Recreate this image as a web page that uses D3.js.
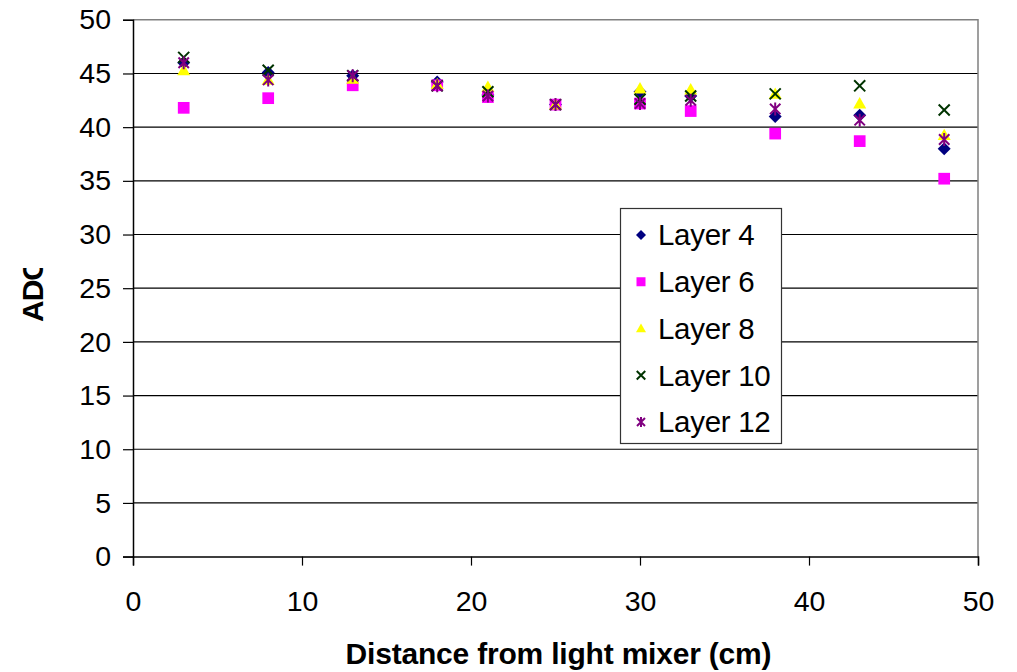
<!DOCTYPE html>
<html><head><meta charset="utf-8">
<script src="https://cdn.jsdelivr.net/npm/d3@7"></script>
<style>
html,body{margin:0;padding:0;background:#fff;}
svg{display:block;font-family:"Liberation Sans",Arial,sans-serif;}
</style></head>
<body><svg id="c" width="1017" height="672"></svg>
<script>
const distances = [3, 8, 13, 18, 21, 25, 30, 33, 38, 43, 48];
const layer4  = [46.0, 45.1, 44.8, 44.2, 43.0, 42.1, 43.3, 42.9, 41.0, 41.1, 38.0];
const layer6  = [41.8, 42.7, 43.9, 43.9, 42.8, 42.1, 42.2, 41.5, 39.4, 38.7, 35.2];
const layer8  = [45.3, 44.4, 44.5, 44.0, 43.75, 42.1, 43.6, 43.5, 43.1, 42.2, 39.25];
const layer10 = [46.5, 45.3, 44.8, 43.85, 43.3, 42.1, 42.6, 42.9, 43.1, 43.85, 41.6];
const layer12 = [46.0, 44.4, 44.8, 43.85, 42.9, 42.1, 42.2, 42.5, 41.7, 40.65, 38.85];
const seriesNames = ["Layer 4", "Layer 6", "Layer 8", "Layer 10", "Layer 12"];
const yTicks = [0, 5, 10, 15, 20, 25, 30, 35, 40, 45, 50];
const xTicks = [0, 10, 20, 30, 40, 50];
const xTitle = "Distance from light mixer (cm)";
const yTitle = "ADC";

const series = [
  {name: seriesNames[0], values: layer4,  color: "#000080", shape: "diamond"},
  {name: seriesNames[1], values: layer6,  color: "#FF00FF", shape: "square"},
  {name: seriesNames[2], values: layer8,  color: "#FFFF00", shape: "triangle"},
  {name: seriesNames[3], values: layer10, color: "#003300", shape: "x"},
  {name: seriesNames[4], values: layer12, color: "#800080", shape: "star"}
];

const svg = d3.select("#c");
const L = 133, R = 978, T = 19.8, B = 556.6;
const x = d3.scaleLinear().domain([0, 50]).range([L, R]);
const y = d3.scaleLinear().domain([0, 50]).range([B, T]);

// gridlines
svg.append("g").selectAll("line").data(yTicks.filter(v => v > 0 && v < 50)).join("line")
  .attr("x1", L).attr("x2", R).attr("y1", d => y(d)).attr("y2", d => y(d))
  .attr("stroke", "#000").attr("stroke-width", 1.2);
// plot border top/right
svg.append("path").attr("d", `M${L},${y(50)}H${R}V${B}`).attr("fill", "none")
  .attr("stroke", "#808080").attr("stroke-width", 1.5);

// y axis
const yAxis = d3.axisLeft(y).tickValues(yTicks).tickSize(10).tickPadding(12);
const gy = svg.append("g").attr("transform", `translate(${L},0)`).call(yAxis);
gy.select(".domain").attr("stroke", "#000").attr("stroke-width", 1.5);
gy.selectAll(".tick line").attr("stroke", "#000").attr("stroke-width", 1.2);
gy.selectAll("text").attr("font-size", 28.5).attr("fill", "#000")
  .attr("font-family", "Liberation Sans, Arial, sans-serif");

// x axis
const xAxis = d3.axisBottom(x).tickValues(xTicks).tickSize(9).tickPadding(25);
const gx = svg.append("g").attr("transform", `translate(0,${B})`).call(xAxis);
gx.select(".domain").attr("stroke", "#000").attr("stroke-width", 1.5);
gx.selectAll(".tick line").attr("stroke", "#000").attr("stroke-width", 1.2);
gx.selectAll("text").attr("font-size", 28.5).attr("fill", "#000")
  .attr("font-family", "Liberation Sans, Arial, sans-serif");

// axis titles
svg.append("text").attr("x", (L + R) / 2 + 3).attr("y", 664).attr("text-anchor", "middle")
  .attr("font-size", 30).attr("font-weight", "bold").attr("letter-spacing", -0.2).text(xTitle);

svg.append("clipPath").attr("id", "yclip").append("rect")
  .attr("x", 0).attr("y", 268).attr("width", 80).attr("height", 200);
svg.append("g").attr("clip-path", "url(#yclip)").append("text")
  .attr("transform", `translate(43,322) rotate(-90)`).attr("text-anchor", "start")
  .attr("font-size", 30).attr("font-weight", "bold").attr("letter-spacing", -1).text(yTitle);

// marker drawing
function marker(sel, shape, color, s) {
  const h = s / 2;
  if (shape === "diamond") {
    sel.append("path").attr("d", `M0,${-h}L${h},0L0,${h}L${-h},0Z`).attr("fill", color);
  } else if (shape === "square") {
    sel.append("rect").attr("x", -h * 0.9).attr("y", -h * 0.9).attr("width", s * 0.9).attr("height", s * 0.9).attr("fill", color);
  } else if (shape === "triangle") {
    sel.append("path").attr("d", `M0,${-h}L${h},${h * 0.75}L${-h},${h * 0.75}Z`).attr("fill", color);
  } else if (shape === "x") {
    const k = h * 0.85;
    sel.append("path").attr("d", `M${-k},${-k}L${k},${k}M${-k},${k}L${k},${-k}`)
      .attr("stroke", color).attr("stroke-width", 2).attr("fill", "none");
  } else if (shape === "star") {
    const k = h * 0.8;
    sel.append("path").attr("d", `M${-k},${-k}L${k},${k}M${-k},${k}L${k},${-k}M0,${-h}L0,${h}`)
      .attr("stroke", color).attr("stroke-width", 2).attr("fill", "none");
  }
}

series.forEach(s => {
  const g = svg.append("g");
  const pts = g.selectAll("g").data(distances.map((d, i) => [d, s.values[i]])).join("g")
    .attr("transform", d => `translate(${x(d[0])},${y(d[1])})`);
  pts.each(function() { marker(d3.select(this), s.shape, s.color, 13); });
});

// legend
const lg = svg.append("g");
lg.append("rect").attr("x", 620.5).attr("y", 208.5).attr("width", 161).attr("height", 235)
  .attr("fill", "#fff").attr("stroke", "#333").attr("stroke-width", 1.2);
const ly = d3.scalePoint().domain(seriesNames).range([235, 422]);
series.forEach(s => {
  const g = lg.append("g").attr("transform", `translate(641,${ly(s.name)})`);
  marker(g, s.shape, s.color, 10);
  lg.append("text").attr("x", 658).attr("y", ly(s.name)).attr("dy", "0.35em")
    .attr("font-size", 29.5).attr("letter-spacing", -0.3).text(s.name);
});
</script></body></html>
